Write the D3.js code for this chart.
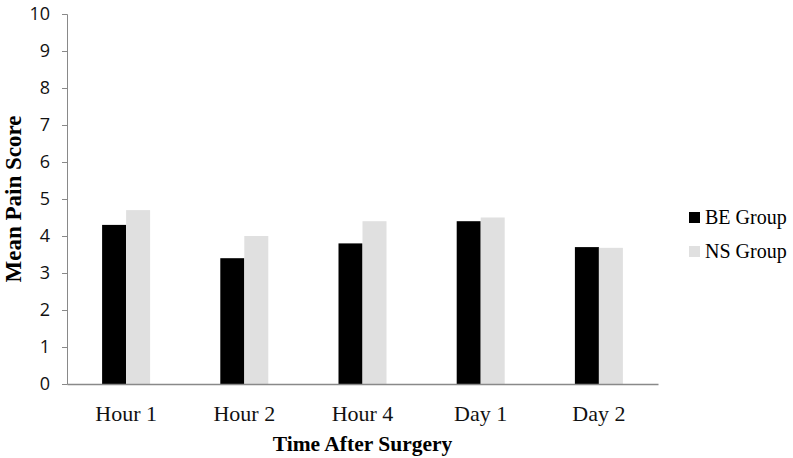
<!DOCTYPE html>
<html>
<head>
<meta charset="utf-8">
<script src="https://cdn.jsdelivr.net/npm/d3@7"></script>
<style>
  body { margin: 0; background: #fff; }
  .tick text { font-family: "Open Sans", sans-serif; font-size: 18px; fill: #111; }
  .axisText { font-family: "Liberation Serif", "Times New Roman", serif; font-weight: bold; font-size: 21.5px; fill: #000; }
</style>
</head>
<body>
<script>
var categories = ["Hour 1", "Hour 2", "Hour 4", "Day 1", "Day 2"];
var seriesNames = ["BE Group", "NS Group"];
var beValues = [4.3, 3.4, 3.8, 4.4, 3.7];
var nsValues = [4.7, 4.0, 4.4, 4.5, 3.68];
var yTicks = [0, 1, 2, 3, 4, 5, 6, 7, 8, 9, 10];
var colors = ["#000000", "#e0e0e0"];

var svgWidth = 793;
var svgHeight = 458;
var margin = { top: 14, right: 135, bottom: 74, left: 67 };
var width = svgWidth - margin.left - margin.right;
var height = svgHeight - margin.top - margin.bottom;

var svg = d3.select("body")
  .append("svg")
  .attr("width", svgWidth)
  .attr("height", svgHeight);

var chartGroup = svg.append("g")
  .attr("transform", `translate(${margin.left}, ${margin.top})`);

var rows = categories.map(function(c, i) {
  return { cat: c, values: [beValues[i], nsValues[i]] };
});

var x0 = d3.scaleBand().domain(categories).range([0, width]).padding(0);
var groupWidth = 48;
var x1 = d3.scaleBand().domain(seriesNames).range([0, groupWidth]);
var y = d3.scaleLinear().domain([0, 10]).range([height, 0]);

// y axis
var leftAxis = d3.axisLeft(y).tickValues(yTicks).tickSize(5).tickPadding(12);
var yAxisG = chartGroup.append("g").call(leftAxis);
yAxisG.select(".domain").attr("stroke", "#898989");
yAxisG.selectAll(".tick line").attr("stroke", "#898989");

// bars
var groups = chartGroup.selectAll(".grp")
  .data(rows)
  .enter()
  .append("g")
  .attr("class", "grp")
  .attr("transform", d => `translate(${x0(d.cat) + (x0.bandwidth() - groupWidth) / 2}, 0)`);

groups.selectAll("rect")
  .data(d => d.values.map((v, i) => ({ name: seriesNames[i], value: v, idx: i })))
  .enter()
  .append("rect")
  .attr("x", d => x1(d.name))
  .attr("width", x1.bandwidth())
  .attr("y", d => y(d.value))
  .attr("height", d => height - y(d.value))
  .attr("fill", d => colors[d.idx]);

// x axis
var bottomAxis = d3.axisBottom(x0).tickSize(0).tickPadding(21);
var xAxisG = chartGroup.append("g")
  .attr("transform", `translate(0, ${height})`)
  .call(bottomAxis);
xAxisG.select(".domain").attr("stroke", "#898989").attr("stroke-width", 1.5);
xAxisG.selectAll(".tick text")
  .style("font-family", '"Liberation Serif", "Times New Roman", serif')
  .style("font-size", "22px")
  .attr("fill", "#000");

// axis titles
chartGroup.append("text")
  .attr("class", "axisText")
  .attr("text-anchor", "middle")
  .attr("x", width / 2)
  .attr("y", height + 67)
  .text("Time After Surgery");

svg.append("text")
  .attr("class", "axisText")
  .style("font-size", "23px")
  .attr("text-anchor", "middle")
  .attr("transform", `translate(21, ${margin.top + height / 2}) rotate(-90)`)
  .text("Mean Pain Score");

// legend
var legend = svg.append("g").attr("transform", "translate(689, 212)");
var legendItems = legend.selectAll(".leg")
  .data(seriesNames)
  .enter()
  .append("g")
  .attr("transform", (d, i) => `translate(0, ${i * 34})`);
legendItems.append("rect")
  .attr("width", 11)
  .attr("height", 11)
  .attr("fill", (d, i) => colors[i]);
legendItems.append("text")
  .attr("x", 16)
  .attr("y", 12)
  .style("font-family", '"Liberation Serif", "Times New Roman", serif')
  .style("font-size", "20px")
  .text(d => d);
</script>
</body>
</html>
